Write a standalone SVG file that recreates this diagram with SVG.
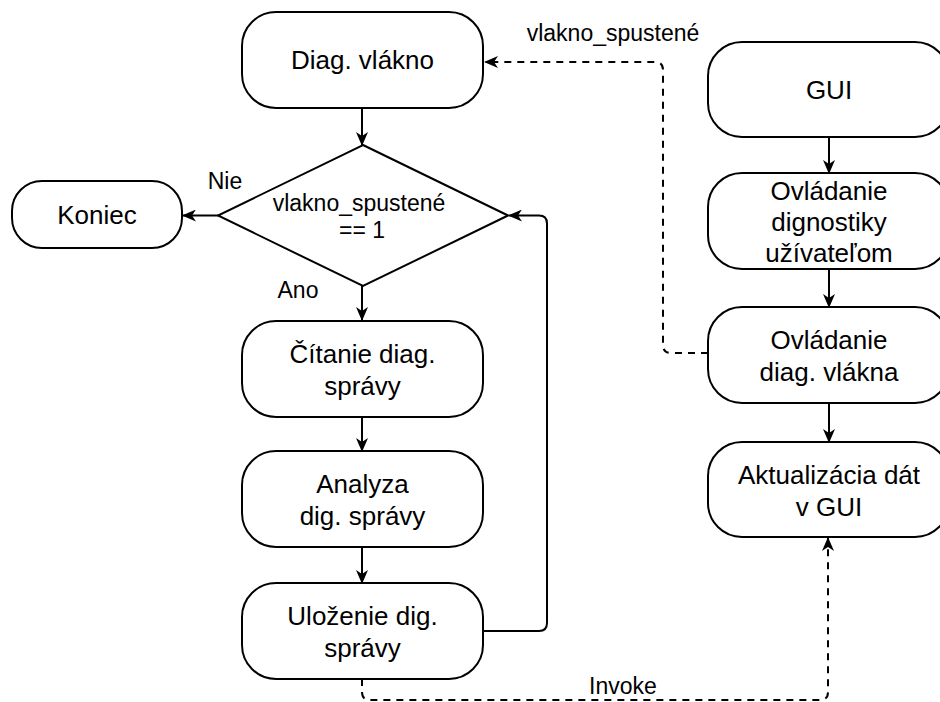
<svg xmlns="http://www.w3.org/2000/svg" width="940" height="702" viewBox="0 0 940 702">
  <style>
    .box { fill: #ffffff; stroke: #000000; stroke-width: 2; }
    .txt { font-family: "Liberation Sans", Arial, Helvetica, sans-serif; font-size: 26px; fill: #000000; text-anchor: middle; }
    .lbl { font-family: "Liberation Sans", Arial, Helvetica, sans-serif; font-size: 23px; fill: #000000; text-anchor: middle; }
    .edge { fill: none; stroke: #000000; stroke-width: 2; }
    .dash { stroke-dasharray: 7 6; }
  </style>
  <defs>
    <marker id="arrow" markerUnits="userSpaceOnUse" viewBox="0 0 14 12" refX="13" refY="6" markerWidth="14" markerHeight="12" orient="auto">
      <path d="M0,0 L14,6 L0,12 L4,6 Z" fill="#000000"/>
    </marker>
  </defs>
  <rect width="940" height="702" fill="#ffffff"/>

  <!-- connectors -->
  <g id="connectors">
    <path class="edge" d="M362,108 V145" marker-end="url(#arrow)"/>
    <path class="edge" d="M218,215.5 H183" marker-end="url(#arrow)"/>
    <path class="edge" d="M362,286 V320" marker-end="url(#arrow)"/>
    <path class="edge" d="M362,417 V451" marker-end="url(#arrow)"/>
    <path class="edge" d="M362,547 V583" marker-end="url(#arrow)"/>
    <path class="edge" d="M483,631 H539 Q547,631 547,623 V223.5 Q547,215.5 539,215.5 H509" marker-end="url(#arrow)"/>
    <path class="edge" d="M829,137 V173" marker-end="url(#arrow)"/>
    <path class="edge" d="M829,269 V307" marker-end="url(#arrow)"/>
    <path class="edge" d="M829,403 V442" marker-end="url(#arrow)"/>
    <path class="edge dash" d="M708,353 H671 Q663,353 663,345 V70 Q663,62 655,62 H485" marker-end="url(#arrow)"/>
    <path class="edge dash" d="M362,679 V692 Q362,700 370,700 H820 Q828,700 828,692 V538" marker-end="url(#arrow)"/>
    <text class="lbl" x="225" y="189">Nie</text>
    <text class="lbl" x="298" y="298">Ano</text>
    <text class="lbl" x="613" y="41">vlakno_spustené</text>
    <text class="lbl" x="623" y="694">Invoke</text>
  </g>

  <!-- left column -->
  <g id="diag-vlakno">
    <rect class="box" x="242" y="12" width="241" height="96" rx="34" ry="34"/>
    <text class="txt" x="362.5" y="69">Diag. vlákno</text>
  </g>
  <g id="podmienka">
    <path class="box" d="M363,145 L508,215.5 L363,286 L218,215.5 Z"/>
    <text class="lbl" x="359" y="211">vlakno_spustené</text>
    <text class="lbl" x="362" y="238">== 1</text>
  </g>
  <g id="koniec">
    <rect class="box" x="12" y="181" width="170" height="67" rx="30" ry="30"/>
    <text class="txt" x="97" y="224">Koniec</text>
  </g>
  <g id="citanie">
    <rect class="box" x="242" y="321" width="241" height="96" rx="34" ry="34"/>
    <text class="txt" x="362.5" y="363">Čítanie diag.</text>
    <text class="txt" x="362.5" y="395">správy</text>
  </g>
  <g id="analyza">
    <rect class="box" x="242" y="451" width="241" height="96" rx="34" ry="34"/>
    <text class="txt" x="362.5" y="493">Analyza</text>
    <text class="txt" x="362.5" y="525">dig. správy</text>
  </g>
  <g id="ulozenie">
    <rect class="box" x="242" y="583" width="241" height="96" rx="34" ry="34"/>
    <text class="txt" x="362.5" y="625">Uloženie dig.</text>
    <text class="txt" x="362.5" y="657">správy</text>
  </g>

  <!-- right column -->
  <g id="gui">
    <rect class="box" x="708" y="42" width="241" height="95" rx="34" ry="34"/>
    <text class="txt" x="829" y="99">GUI</text>
  </g>
  <g id="ovladanie-diagnostiky">
    <rect class="box" x="708" y="173" width="241" height="96" rx="34" ry="34"/>
    <text class="txt" x="829" y="200">Ovládanie</text>
    <text class="txt" x="829" y="231">dignostiky</text>
    <text class="txt" x="829" y="262">užívateľom</text>
  </g>
  <g id="ovladanie-vlakna">
    <rect class="box" x="708" y="307" width="241" height="96" rx="34" ry="34"/>
    <text class="txt" x="829" y="349">Ovládanie</text>
    <text class="txt" x="829" y="381">diag. vlákna</text>
  </g>
  <g id="aktualizacia">
    <rect class="box" x="708" y="442" width="241" height="95" rx="34" ry="34"/>
    <text class="txt" x="829" y="484">Aktualizácia dát</text>
    <text class="txt" x="829" y="516">v GUI</text>
  </g>
</svg>
